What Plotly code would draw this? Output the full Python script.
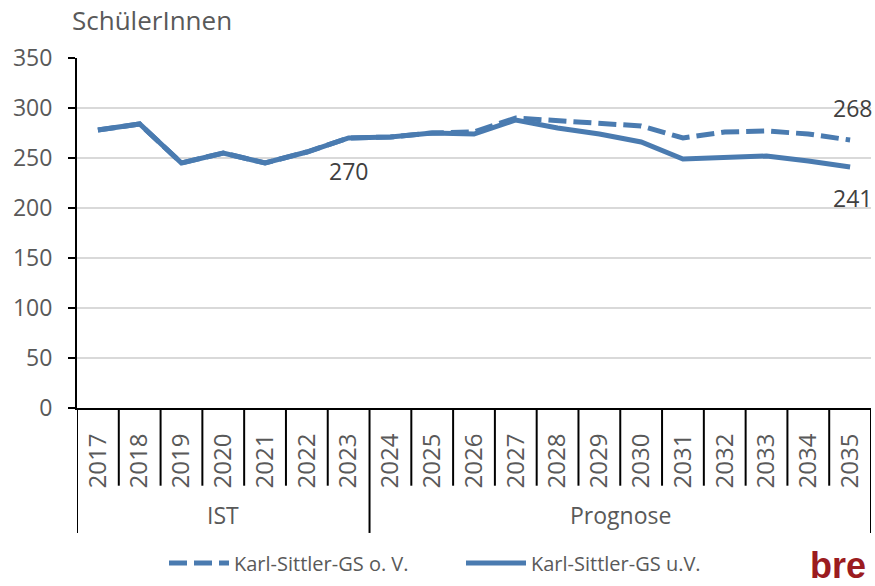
import plotly.graph_objects as go

years = [str(y) for y in range(2017, 2036)]
groups = ["IST"] * 7 + ["Prognose"] * 12
ov = [278, 284, 245, 255, 245, 256, 270, 271, 275, 276, 290, 287, 285, 282, 270, 276, 277, 274, 268]
uv = [278, 284, 245, 255, 245, 256, 270, 271, 275, 274, 288, 280, 274, 266, 249, 251, 252, 247, 241]
name_ov = "Karl-Sittler-GS o. V."
name_uv = "Karl-Sittler-GS u.V."
y_title = "SchülerInnen"

FONT = "Open Sans"
GRAY = "#595959"
DARK = "#404040"
BLUE = "#4a7bb0"

fig = go.Figure()
fig.add_trace(go.Scatter(x=years, y=ov, mode="lines", name=name_ov,
                         line=dict(color=BLUE, width=5, dash="18px,7px")))
fig.add_trace(go.Scatter(x=years, y=uv, mode="lines", name=name_uv,
                         line=dict(color=BLUE, width=5)))

n = len(years)
# value labels (x given as category index)
fig.add_annotation(x=6, y=uv[6], text=str(uv[6]), showarrow=False, yshift=-33,
                   font=dict(size=23, color=DARK, family=FONT))
fig.add_annotation(x=n - 1, y=ov[-1], text=str(ov[-1]), showarrow=False, yshift=32, xshift=2,
                   font=dict(size=23, color=DARK, family=FONT))
fig.add_annotation(x=n - 1, y=uv[-1], text=str(uv[-1]), showarrow=False, yshift=-31, xshift=2,
                   font=dict(size=23, color=DARK, family=FONT))

# category separators
for i in range(n + 1):
    b = i - 0.5
    is_group = (i == 0 or i == n or groups[i - 1] != groups[i])
    fig.add_shape(type="line", xref="x", yref="paper", x0=b, x1=b, y0=0,
                  y1=-0.357 if is_group else -0.222,
                  line=dict(color="black", width=2))

# group labels
start = 0
for i in range(1, n + 1):
    if i == n or groups[i] != groups[start]:
        fig.add_annotation(x=(start + i - 1) / 2, y=-0.307, xref="x", yref="paper",
                           yanchor="middle", text=groups[start], showarrow=False,
                           font=dict(size=23, color=GRAY, family=FONT))
        start = i

# axis title
fig.add_annotation(x=(70 - 77) / 794, y=(410 - 20) / 352, xref="paper", yref="paper",
                   text=y_title, showarrow=False, xanchor="left", yanchor="middle",
                   font=dict(size=26, color=GRAY, family=FONT))

# logo
fig.add_annotation(x=(868 - 77) / 794, y=(410 - 568) / 352, xref="paper", yref="paper",
                   xanchor="right", yanchor="middle", text="<b>bre</b>", showarrow=False,
                   font=dict(size=36, color="#9b1b20", family="Liberation Sans"))

fig.update_layout(
    width=875, height=586,
    margin=dict(l=77, r=4, t=58, b=176),
    paper_bgcolor="white", plot_bgcolor="white",
    font=dict(family=FONT, color=GRAY, size=20),
    showlegend=True,
    legend=dict(orientation="h", x=(164 - 77) / 794, xanchor="left", y=(410 - 566) / 352,
                yanchor="middle", font=dict(size=20, color=GRAY, family=FONT),
                itemwidth=60, entrywidth=222, entrywidthmode="pixels",
                traceorder="normal"),
)
fig.update_xaxes(type="category", range=[-0.5, n - 0.5], showline=True, linecolor="black",
                 linewidth=2, ticks="", tickangle=-90, showgrid=False, ticklabelstandoff=14,
                 tickfont=dict(size=24, color=GRAY, family=FONT))
fig.update_yaxes(range=[0, 350], dtick=50, showline=True, linecolor="black", linewidth=2,
                 ticks="outside", ticklen=7, tickwidth=2, tickcolor="black",
                 gridcolor="#d9d9d9", gridwidth=1.5, zeroline=False, ticklabelstandoff=11,
                 tickfont=dict(size=23, color=GRAY, family=FONT))

fig.write_html("out.html", config={"displayModeBar": False},
               post_script="document.body.style.margin='0';document.body.style.overflow='hidden';")
